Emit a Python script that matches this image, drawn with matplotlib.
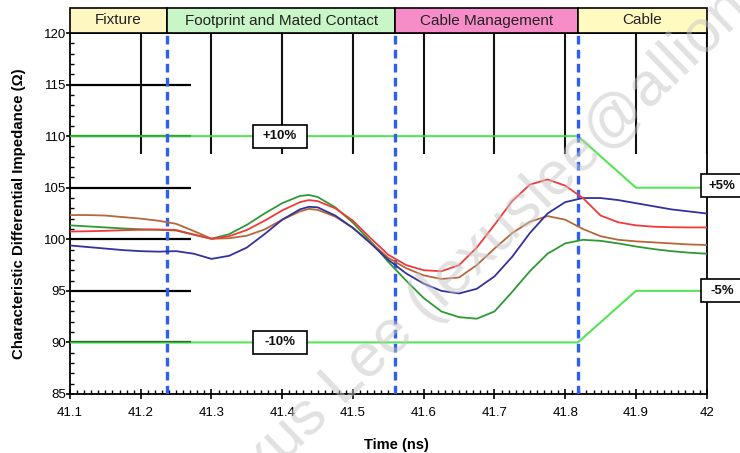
import matplotlib
matplotlib.use("Agg")
import matplotlib.pyplot as plt
from matplotlib.patches import Rectangle
from matplotlib.ticker import MultipleLocator, FixedLocator

plt.rcParams['font.family'] = ['Liberation Sans', 'DejaVu Sans']

# ---- data -------------------------------------------------------------
time_ns = [41.100, 41.125, 41.150, 41.175, 41.200, 41.225, 41.250, 41.275,
           41.300, 41.325, 41.350, 41.375, 41.400, 41.425, 41.4375, 41.450,
           41.475, 41.500, 41.525, 41.550, 41.575, 41.600, 41.625, 41.650,
           41.675, 41.700, 41.725, 41.750, 41.775, 41.800, 41.825, 41.850,
           41.875, 41.900, 41.925, 41.950, 41.975, 42.000]

z_blue = [99.40, 99.25, 99.10, 98.95, 98.85, 98.80, 98.85, 98.60,
          98.10, 98.40, 99.20, 100.50, 101.90, 102.90, 103.15, 103.10,
          102.30, 101.10, 99.60, 98.00, 96.70, 95.70, 95.00, 94.75,
          95.20, 96.40, 98.30, 100.60, 102.50, 103.60, 104.00, 104.00,
          103.80, 103.50, 103.20, 102.90, 102.70, 102.50]

z_red = [100.75, 100.78, 100.82, 100.88, 100.92, 100.95, 100.90, 100.45,
         100.05, 100.30, 100.90, 101.80, 102.80, 103.60, 103.80, 103.70,
         103.00, 101.80, 100.10, 98.50, 97.50, 97.00, 96.90, 97.50,
         99.20, 101.40, 103.70, 105.30, 105.80, 105.20, 104.00, 102.30,
         101.65, 101.35, 101.22, 101.17, 101.15, 101.15]

z_brown = [102.35, 102.35, 102.30, 102.15, 102.00, 101.80, 101.50, 100.80,
           100.05, 100.10, 100.35, 100.95, 101.90, 102.70, 102.95, 102.85,
           102.20, 101.10, 99.70, 98.20, 97.20, 96.50, 96.15, 96.30,
           97.50, 99.10, 100.60, 101.70, 102.25, 101.90, 101.00, 100.30,
           99.95, 99.80, 99.70, 99.60, 99.50, 99.45]

z_green = [101.35, 101.25, 101.15, 101.05, 100.97, 100.92, 100.85, 100.45,
           100.05, 100.50, 101.40, 102.50, 103.50, 104.20, 104.30, 104.10,
           103.10, 101.60, 99.80, 97.80, 96.00, 94.30, 93.00, 92.45,
           92.30, 93.00, 94.90, 96.90, 98.60, 99.60, 99.95, 99.85,
           99.60, 99.30, 99.05, 98.85, 98.70, 98.60]

sections = ["Fixture", "Footprint and Mated Contact", "Cable Management", "Cable"]
section_edges = [41.1, 41.237, 41.56, 41.818, 42.0]
section_colors = ["#FFF7C2", "#C9F6C6", "#F78DC8", "#FFFAC0"]

limit_t = [41.1, 41.818, 41.9, 42.0]
upper_limit = [110, 110, 105, 105]
lower_limit = [90, 90, 95, 95]

ref_levels = [115, 110, 105, 100, 95, 90]
ref_end = 41.271
marker_times = [41.2, 41.3, 41.4, 41.5, 41.6, 41.7, 41.8, 41.9, 42.0]
marker_bottom = 108.3

x_ticks = [41.1, 41.2, 41.3, 41.4, 41.5, 41.6, 41.7, 41.8, 41.9, 42.0]
x_labels = ["41.1", "41.2", "41.3", "41.4", "41.5", "41.6", "41.7", "41.8", "41.9", "42"]
y_ticks = [85, 90, 95, 100, 105, 110, 115, 120]

# ---- figure -----------------------------------------------------------
W, H = 740, 453
fig = plt.figure(figsize=(W / 100, H / 100), dpi=100)
left, right, bottom, top = 70 / W, 706.7 / W, 1 - 394 / H, 1 - 33 / H
ax = fig.add_axes([left, bottom, right - left, top - bottom])
ax.set_xlim(41.1, 42.0)
ax.set_ylim(85, 120)

# reference grid stubs
for lv in ref_levels:
    ax.plot([41.1, ref_end], [lv, lv], color="black", lw=1.6, zorder=2,
            solid_capstyle="butt")
for mt in marker_times:
    ax.plot([mt, mt], [120, marker_bottom], color="#111111", lw=1.5, zorder=2,
            solid_capstyle="butt")

# tolerance limits
ax.plot(limit_t, upper_limit, color="#3ADF3A", lw=1.5, alpha=0.85, zorder=3)
ax.plot(limit_t, lower_limit, color="#3ADF3A", lw=1.5, alpha=0.85, zorder=3)

# section boundaries
for b in section_edges[1:-1]:
    ax.axvline(b, color="#2F5FF0", lw=2.4, dashes=(2.6, 1.6), zorder=4)

# impedance traces
ax.plot(time_ns, z_green, color="#2E9A33", lw=1.3, zorder=5)
ax.plot(time_ns, z_brown, color="#B5673A", lw=1.3, zorder=5)
ax.plot(time_ns, z_blue, color="#32329E", lw=1.3, zorder=5)
ax.plot(time_ns, z_red, color="#F03A3A", lw=1.3, zorder=5)

# tolerance labels in framed boxes
def tag(x0, x1, yc, xt, label):
    ax.add_patch(Rectangle((x0, yc - 1.12), x1 - x0, 2.24, fc="white",
                           ec="black", lw=1.2, zorder=6, clip_on=False))
    ax.text(xt, yc, label, ha="center", va="center", fontsize=9.5,
            fontweight="bold", color="#111111", zorder=7)

tag(41.359, 41.435, 110.0, 41.397, "+10%")
tag(41.359, 41.435, 90.0, 41.397, "-10%")
tag(41.9914, 42.09, 105.2, 42.0217, "+5%")
tag(41.9914, 42.09, 95.0, 42.0217, "-5%")

# axes styling
for s in ax.spines.values():
    s.set_linewidth(1.3)
ax.xaxis.set_major_locator(FixedLocator(x_ticks))
ax.set_xticklabels(x_labels)
ax.xaxis.set_minor_locator(MultipleLocator(0.01))
ax.yaxis.set_major_locator(FixedLocator(y_ticks))
ax.yaxis.set_minor_locator(MultipleLocator(1))
ax.tick_params(axis="x", which="major", direction="inout", length=7, width=1.2,
               pad=6, labelsize=9.5)
ax.tick_params(axis="x", which="minor", direction="in", length=3, width=1.0)
ax.tick_params(axis="y", which="major", direction="inout", length=6, width=1.2,
               pad=0, labelsize=9.5)
ax.tick_params(axis="y", which="minor", direction="in", length=3, width=1.0)
ax.set_xlabel("Time (ns)", fontsize=10.5, fontweight="bold")
ax.xaxis.set_label_coords(0.513, -0.122)
ax.set_ylabel("Characteristic Differential Impedance (\u03a9)", fontsize=10.8,
              fontweight="bold")
ax.yaxis.set_label_coords(-0.069, 0.5)

# section header band
hdr = fig.add_axes([left, top, right - left, (33 - 8) / H])
hdr.set_xlim(41.1, 42.0)
hdr.set_ylim(0, 1)
hdr.axis("off")
for name, x0, x1, c in zip(sections, section_edges[:-1], section_edges[1:], section_colors):
    hdr.add_patch(Rectangle((x0, 0), x1 - x0, 1, fc=c, ec="black", lw=1.2,
                            clip_on=False))
    hdr.text((x0 + x1) / 2, 0.5, name, ha="center", va="center", fontsize=11,
             color="#222222")

# watermark
fig.text(0.2876, -0.1735, "Lexus Lee (lexuslee@allion.com)", fontsize=44,
         color="#c4c4c4", alpha=0.5, rotation=44, rotation_mode="anchor",
         ha="left", va="baseline", zorder=10)

fig.savefig("out.png", dpi=100)
